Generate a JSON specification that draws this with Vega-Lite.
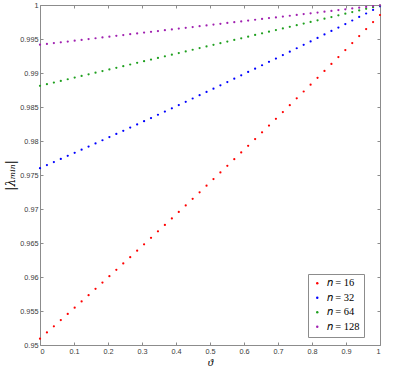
{
  "$schema": "https://vega.github.io/schema/vega-lite/v6.json",
  "width": 340,
  "height": 340,
  "autosize": "none",
  "padding": {"left": 40, "top": 5, "right": 19, "bottom": 25},
  "background": "white",
  "config": {
    "view": {"stroke": null},
    "axis": {
      "domainColor": "#8c8c8c",
      "tickColor": "#8c8c8c",
      "labelColor": "#3a3a3a",
      "labelFont": "Liberation Sans",
      "labelFontSize": 7.3,
      "tickSize": -3,
      "grid": false,
      "domainWidth": 1,
      "tickWidth": 1
    },
    "legend": {
      "orient": "none",
      "legendX": 268,
      "legendY": 269,
      "strokeColor": "#8c8c8c",
      "fillColor": "white",
      "padding": 4,
      "labelFont": "Liberation Serif",
      "labelFontSize": 10.5,
      "labelColor": "#000",
      "symbolSize": 6,
      "symbolType": "circle",
      "rowPadding": 3.5
    }
  },
  "datasets": {
    "pts": [
      {"theta":0,"lambda":0.95093,"n":16},{"theta":0.0204,"lambda":0.95184,"n":16},{"theta":0.0408,"lambda":0.95275,"n":16},{"theta":0.0612,"lambda":0.95366,"n":16},{"theta":0.0816,"lambda":0.95457,"n":16},{"theta":0.102,"lambda":0.95549,"n":16},{"theta":0.1224,"lambda":0.95641,"n":16},{"theta":0.1429,"lambda":0.95733,"n":16},{"theta":0.1633,"lambda":0.95826,"n":16},{"theta":0.1837,"lambda":0.95918,"n":16},
      {"theta":0.2041,"lambda":0.96012,"n":16},{"theta":0.2245,"lambda":0.96105,"n":16},{"theta":0.2449,"lambda":0.96199,"n":16},{"theta":0.2653,"lambda":0.96292,"n":16},{"theta":0.2857,"lambda":0.96387,"n":16},{"theta":0.3061,"lambda":0.96481,"n":16},{"theta":0.3265,"lambda":0.96576,"n":16},{"theta":0.3469,"lambda":0.96671,"n":16},{"theta":0.3673,"lambda":0.96766,"n":16},{"theta":0.3878,"lambda":0.96861,"n":16},
      {"theta":0.4082,"lambda":0.96957,"n":16},{"theta":0.4286,"lambda":0.97053,"n":16},{"theta":0.449,"lambda":0.9715,"n":16},{"theta":0.4694,"lambda":0.97246,"n":16},{"theta":0.4898,"lambda":0.97343,"n":16},{"theta":0.5102,"lambda":0.9744,"n":16},{"theta":0.5306,"lambda":0.97538,"n":16},{"theta":0.551,"lambda":0.97635,"n":16},{"theta":0.5714,"lambda":0.97733,"n":16},{"theta":0.5918,"lambda":0.97831,"n":16},
      {"theta":0.6122,"lambda":0.9793,"n":16},{"theta":0.6327,"lambda":0.98029,"n":16},{"theta":0.6531,"lambda":0.98128,"n":16},{"theta":0.6735,"lambda":0.98227,"n":16},{"theta":0.6939,"lambda":0.98327,"n":16},{"theta":0.7143,"lambda":0.98426,"n":16},{"theta":0.7347,"lambda":0.98527,"n":16},{"theta":0.7551,"lambda":0.98627,"n":16},{"theta":0.7755,"lambda":0.98728,"n":16},{"theta":0.7959,"lambda":0.98828,"n":16},
      {"theta":0.8163,"lambda":0.9893,"n":16},{"theta":0.8367,"lambda":0.99031,"n":16},{"theta":0.8571,"lambda":0.99133,"n":16},{"theta":0.8776,"lambda":0.99235,"n":16},{"theta":0.898,"lambda":0.99337,"n":16},{"theta":0.9184,"lambda":0.9944,"n":16},{"theta":0.9388,"lambda":0.99543,"n":16},{"theta":0.9592,"lambda":0.99646,"n":16},{"theta":0.9796,"lambda":0.99749,"n":16},{"theta":1,"lambda":0.99853,"n":16},

      {"theta":0,"lambda":0.97601,"n":32},{"theta":0.0204,"lambda":0.97646,"n":32},{"theta":0.0408,"lambda":0.97691,"n":32},{"theta":0.0612,"lambda":0.97736,"n":32},{"theta":0.0816,"lambda":0.97782,"n":32},{"theta":0.102,"lambda":0.97827,"n":32},{"theta":0.1224,"lambda":0.97873,"n":32},{"theta":0.1429,"lambda":0.97919,"n":32},{"theta":0.1633,"lambda":0.97965,"n":32},{"theta":0.1837,"lambda":0.98011,"n":32},
      {"theta":0.2041,"lambda":0.98057,"n":32},{"theta":0.2245,"lambda":0.98104,"n":32},{"theta":0.2449,"lambda":0.9815,"n":32},{"theta":0.2653,"lambda":0.98197,"n":32},{"theta":0.2857,"lambda":0.98244,"n":32},{"theta":0.3061,"lambda":0.98291,"n":32},{"theta":0.3265,"lambda":0.98338,"n":32},{"theta":0.3469,"lambda":0.98386,"n":32},{"theta":0.3673,"lambda":0.98433,"n":32},{"theta":0.3878,"lambda":0.98481,"n":32},
      {"theta":0.4082,"lambda":0.98529,"n":32},{"theta":0.4286,"lambda":0.98577,"n":32},{"theta":0.449,"lambda":0.98625,"n":32},{"theta":0.4694,"lambda":0.98673,"n":32},{"theta":0.4898,"lambda":0.98721,"n":32},{"theta":0.5102,"lambda":0.9877,"n":32},{"theta":0.5306,"lambda":0.98819,"n":32},{"theta":0.551,"lambda":0.98867,"n":32},{"theta":0.5714,"lambda":0.98916,"n":32},{"theta":0.5918,"lambda":0.98966,"n":32},
      {"theta":0.6122,"lambda":0.99015,"n":32},{"theta":0.6327,"lambda":0.99064,"n":32},{"theta":0.6531,"lambda":0.99114,"n":32},{"theta":0.6735,"lambda":0.99164,"n":32},{"theta":0.6939,"lambda":0.99213,"n":32},{"theta":0.7143,"lambda":0.99263,"n":32},{"theta":0.7347,"lambda":0.99314,"n":32},{"theta":0.7551,"lambda":0.99364,"n":32},{"theta":0.7755,"lambda":0.99414,"n":32},{"theta":0.7959,"lambda":0.99465,"n":32},
      {"theta":0.8163,"lambda":0.99516,"n":32},{"theta":0.8367,"lambda":0.99567,"n":32},{"theta":0.8571,"lambda":0.99618,"n":32},{"theta":0.8776,"lambda":0.99669,"n":32},{"theta":0.898,"lambda":0.9972,"n":32},{"theta":0.9184,"lambda":0.99772,"n":32},{"theta":0.9388,"lambda":0.99824,"n":32},{"theta":0.9592,"lambda":0.99875,"n":32},{"theta":0.9796,"lambda":0.99927,"n":32},{"theta":1,"lambda":0.9998,"n":32},

      {"theta":0,"lambda":0.98812,"n":64},{"theta":0.0204,"lambda":0.98836,"n":64},{"theta":0.0408,"lambda":0.9886,"n":64},{"theta":0.0612,"lambda":0.98884,"n":64},{"theta":0.0816,"lambda":0.98908,"n":64},{"theta":0.102,"lambda":0.98932,"n":64},{"theta":0.1224,"lambda":0.98957,"n":64},{"theta":0.1429,"lambda":0.98981,"n":64},{"theta":0.1633,"lambda":0.99005,"n":64},{"theta":0.1837,"lambda":0.99029,"n":64},
      {"theta":0.2041,"lambda":0.99053,"n":64},{"theta":0.2245,"lambda":0.99077,"n":64},{"theta":0.2449,"lambda":0.99101,"n":64},{"theta":0.2653,"lambda":0.99125,"n":64},{"theta":0.2857,"lambda":0.99149,"n":64},{"theta":0.3061,"lambda":0.99173,"n":64},{"theta":0.3265,"lambda":0.99197,"n":64},{"theta":0.3469,"lambda":0.99221,"n":64},{"theta":0.3673,"lambda":0.99245,"n":64},{"theta":0.3878,"lambda":0.9927,"n":64},
      {"theta":0.4082,"lambda":0.99294,"n":64},{"theta":0.4286,"lambda":0.99318,"n":64},{"theta":0.449,"lambda":0.99342,"n":64},{"theta":0.4694,"lambda":0.99366,"n":64},{"theta":0.4898,"lambda":0.9939,"n":64},{"theta":0.5102,"lambda":0.99414,"n":64},{"theta":0.5306,"lambda":0.99438,"n":64},{"theta":0.551,"lambda":0.99462,"n":64},{"theta":0.5714,"lambda":0.99486,"n":64},{"theta":0.5918,"lambda":0.9951,"n":64},
      {"theta":0.6122,"lambda":0.99534,"n":64},{"theta":0.6327,"lambda":0.99559,"n":64},{"theta":0.6531,"lambda":0.99583,"n":64},{"theta":0.6735,"lambda":0.99607,"n":64},{"theta":0.6939,"lambda":0.99631,"n":64},{"theta":0.7143,"lambda":0.99655,"n":64},{"theta":0.7347,"lambda":0.99679,"n":64},{"theta":0.7551,"lambda":0.99703,"n":64},{"theta":0.7755,"lambda":0.99727,"n":64},{"theta":0.7959,"lambda":0.99751,"n":64},
      {"theta":0.8163,"lambda":0.99775,"n":64},{"theta":0.8367,"lambda":0.99799,"n":64},{"theta":0.8571,"lambda":0.99823,"n":64},{"theta":0.8776,"lambda":0.99848,"n":64},{"theta":0.898,"lambda":0.99872,"n":64},{"theta":0.9184,"lambda":0.99896,"n":64},{"theta":0.9388,"lambda":0.9992,"n":64},{"theta":0.9592,"lambda":0.99944,"n":64},{"theta":0.9796,"lambda":0.99968,"n":64},{"theta":1,"lambda":0.99992,"n":64},

      {"theta":0,"lambda":0.99416,"n":128},{"theta":0.0204,"lambda":0.99428,"n":128},{"theta":0.0408,"lambda":0.9944,"n":128},{"theta":0.0612,"lambda":0.99452,"n":128},{"theta":0.0816,"lambda":0.99463,"n":128},{"theta":0.102,"lambda":0.99475,"n":128},{"theta":0.1224,"lambda":0.99487,"n":128},{"theta":0.1429,"lambda":0.99499,"n":128},{"theta":0.1633,"lambda":0.99511,"n":128},{"theta":0.1837,"lambda":0.99523,"n":128},
      {"theta":0.2041,"lambda":0.99534,"n":128},{"theta":0.2245,"lambda":0.99546,"n":128},{"theta":0.2449,"lambda":0.99558,"n":128},{"theta":0.2653,"lambda":0.9957,"n":128},{"theta":0.2857,"lambda":0.99582,"n":128},{"theta":0.3061,"lambda":0.99594,"n":128},{"theta":0.3265,"lambda":0.99605,"n":128},{"theta":0.3469,"lambda":0.99617,"n":128},{"theta":0.3673,"lambda":0.99629,"n":128},{"theta":0.3878,"lambda":0.99641,"n":128},
      {"theta":0.4082,"lambda":0.99653,"n":128},{"theta":0.4286,"lambda":0.99665,"n":128},{"theta":0.449,"lambda":0.99676,"n":128},{"theta":0.4694,"lambda":0.99688,"n":128},{"theta":0.4898,"lambda":0.997,"n":128},{"theta":0.5102,"lambda":0.99712,"n":128},{"theta":0.5306,"lambda":0.99724,"n":128},{"theta":0.551,"lambda":0.99736,"n":128},{"theta":0.5714,"lambda":0.99747,"n":128},{"theta":0.5918,"lambda":0.99759,"n":128},
      {"theta":0.6122,"lambda":0.99771,"n":128},{"theta":0.6327,"lambda":0.99783,"n":128},{"theta":0.6531,"lambda":0.99795,"n":128},{"theta":0.6735,"lambda":0.99807,"n":128},{"theta":0.6939,"lambda":0.99818,"n":128},{"theta":0.7143,"lambda":0.9983,"n":128},{"theta":0.7347,"lambda":0.99842,"n":128},{"theta":0.7551,"lambda":0.99854,"n":128},{"theta":0.7755,"lambda":0.99866,"n":128},{"theta":0.7959,"lambda":0.99878,"n":128},
      {"theta":0.8163,"lambda":0.99889,"n":128},{"theta":0.8367,"lambda":0.99901,"n":128},{"theta":0.8571,"lambda":0.99913,"n":128},{"theta":0.8776,"lambda":0.99925,"n":128},{"theta":0.898,"lambda":0.99937,"n":128},{"theta":0.9184,"lambda":0.99949,"n":128},{"theta":0.9388,"lambda":0.9996,"n":128},{"theta":0.9592,"lambda":0.99972,"n":128},{"theta":0.9796,"lambda":0.99984,"n":128},{"theta":1,"lambda":0.99996,"n":128}
    ]
  },
  "data": {"name": "pts"},
  "layer": [
    {
      "mark": {"type": "point", "filled": true, "shape": "circle", "size": 5, "opacity": 1},
      "encoding": {
        "x": {
          "field": "theta", "type": "quantitative",
          "scale": {"domain": [0, 1], "nice": false, "zero": false},
          "axis": {
            "orient": "bottom", "values": [0,0.1,0.2,0.3,0.4,0.5,0.6,0.7,0.8,0.9,1],
            "format": "~f", "labelPadding": 5, "title": "ϑ",
            "titleFont": "Liberation Serif", "titleFontStyle": "italic", "titleFontWeight": "normal",
            "titleFontSize": 11, "titlePadding": 2, "titleColor": "#000"
          }
        },
        "y": {
          "field": "lambda", "type": "quantitative",
          "scale": {"domain": [0.95, 1], "nice": false, "zero": false},
          "axis": {
            "orient": "left", "values": [0.95,0.955,0.96,0.965,0.97,0.975,0.98,0.985,0.99,0.995,1],
            "format": "~f", "labelPadding": 5, "title": "|λₘᵢₙ|",
            "titleFont": "DejaVu Serif", "titleFontStyle": "italic", "titleFontWeight": "normal",
            "titleFontSize": 12, "titlePadding": 2, "titleColor": "#000"
          }
        },
        "color": {
          "field": "n", "type": "nominal",
          "scale": {"domain": [16, 32, 64, 128], "range": ["#ff0000", "#0000ff", "#1fa01f", "#a020b0"]},
          "legend": {"title": null, "labelExpr": "'𝑛 = ' + datum.label"}
        }
      }
    },
    {
      "mark": {"type": "point", "opacity": 0, "size": 1},
      "encoding": {
        "x": {
          "field": "theta", "type": "quantitative",
          "axis": {"orient": "top", "values": [0,0.1,0.2,0.3,0.4,0.5,0.6,0.7,0.8,0.9,1], "labels": false, "title": null}
        },
        "y": {
          "field": "lambda", "type": "quantitative",
          "axis": {"orient": "right", "values": [0.95,0.955,0.96,0.965,0.97,0.975,0.98,0.985,0.99,0.995,1], "labels": false, "title": null}
        }
      }
    }
  ],
  "resolve": {"axis": {"x": "independent", "y": "independent"}}
}
